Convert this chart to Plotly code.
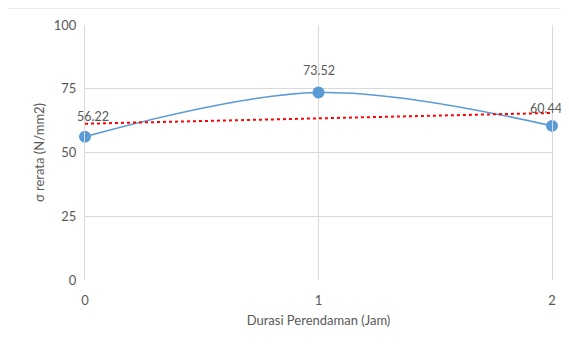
import numpy as np
import plotly.graph_objects as go

durasi = [0, 1, 2]
sigma = [56.22, 73.52, 60.44]
labels = ["56.22", "73.52", "60.44"]
y_ticks = [0, 25, 50, 75, 100]
x_ticks = [0, 1, 2]

# linear trendline (least squares, like Excel)
slope, intercept = np.polyfit(durasi, sigma, 1)
trend_x = [durasi[0], durasi[-1]]
trend_y = [intercept + slope * x for x in trend_x]

font_family = "Lato, 'Open Sans', sans-serif"
grey = "#595959"
gridc = "#D9D9D9"

W, H = 561, 336
L, R, T, B = 77, 17, 17, 64
PW, PH = W - L - R, H - T - B

fig = go.Figure()
fig.add_trace(go.Scatter(
    x=durasi, y=sigma, mode="lines+markers",
    line=dict(color="#5B9BD5", width=1.6, shape="spline", smoothing=1.0),
    marker=dict(color="#5B9BD5", size=12),
    showlegend=False, hoverinfo="x+y", cliponaxis=False,
))
fig.add_trace(go.Scatter(
    x=trend_x, y=trend_y, mode="lines",
    line=dict(color="#FF0000", width=2, dash="dot"),
    showlegend=False, hoverinfo="skip",
))
shifts = {0: (8, 20), 1: (0, 22), 2: (-6, 17)}
for x, y, t in zip(durasi, sigma, labels):
    xs, ys = shifts[x]
    fig.add_annotation(x=x, y=y, text=t, showarrow=False, yshift=ys,
                       xshift=xs,
                       font=dict(family=font_family, size=12.5, color=grey))

fig.add_shape(type="rect", xref="paper", yref="paper",
              x0=(-1 - L) / PW, x1=(W + 20 - L) / PW,
              y0=-(B + 20) / PH, y1=1 + T / PH,
              line=dict(color=gridc, width=1), layer="below")

fig.update_layout(
    width=W, height=H,
    margin=dict(l=L, r=R, t=T, b=B, autoexpand=False),
    paper_bgcolor="white", plot_bgcolor="white",
    font=dict(family=font_family, size=13, color=grey),
)
fig.update_xaxes(
    range=[0, 2], tickvals=x_ticks, ticktext=[str(v) for v in x_ticks],
    showgrid=True, gridcolor=gridc, gridwidth=1, zeroline=False,
    showline=False, ticks="outside", ticklen=8, tickcolor="rgba(0,0,0,0)",
    title=dict(text="Durasi Perendaman (Jam)", standoff=9,
               font=dict(size=13, color=grey)),
    tickfont=dict(size=13, color=grey),
)
fig.update_yaxes(
    range=[0, 100], tickvals=y_ticks,
    showgrid=True, gridcolor=gridc, gridwidth=1, zeroline=False,
    showline=True, linecolor=gridc, linewidth=1, mirror=True,
    ticks="outside", ticklen=5, tickcolor="rgba(0,0,0,0)",
    title=dict(text="σ rerata (N/mm2)", standoff=6,
               font=dict(size=13, color=grey)),
    tickfont=dict(size=13, color=grey),
)

fig.write_html("out.html")
